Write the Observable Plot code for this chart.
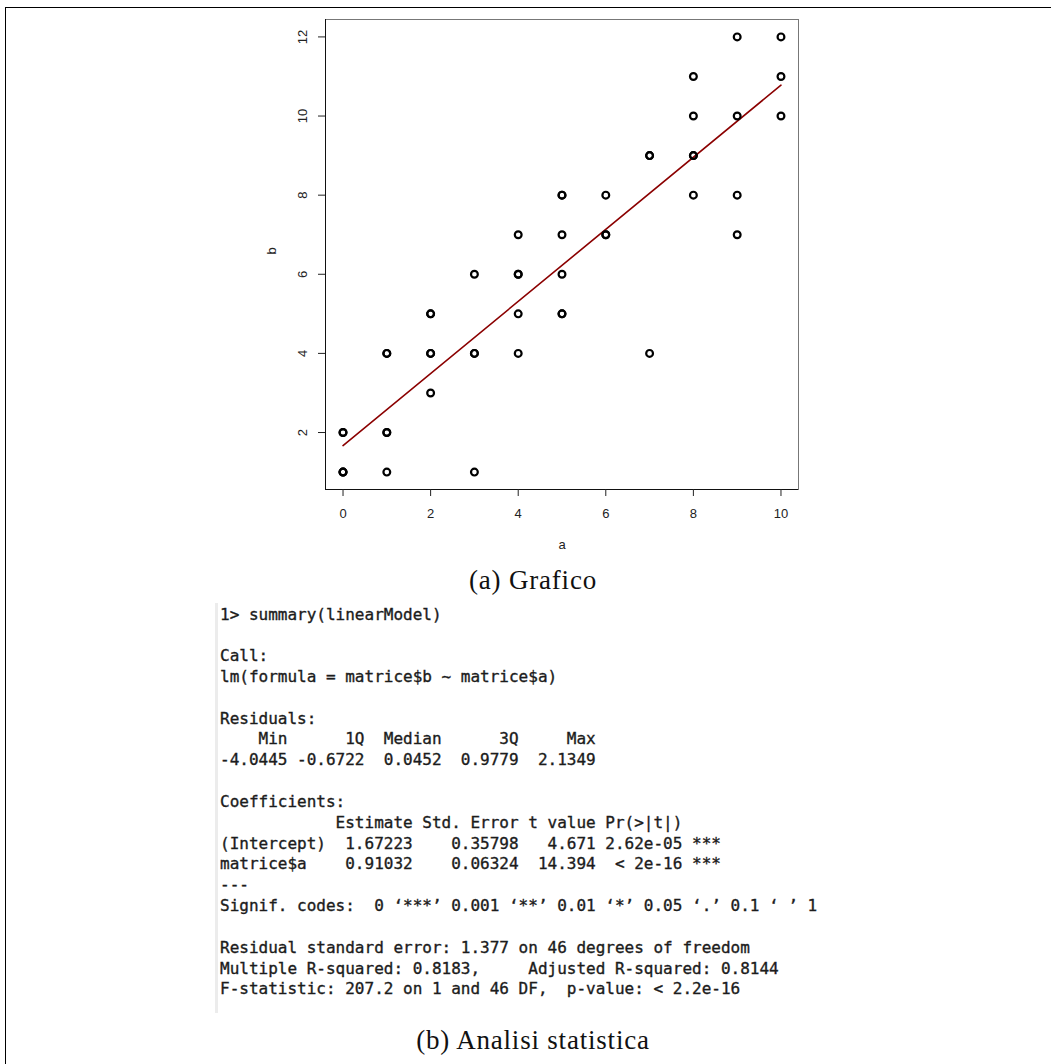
<!DOCTYPE html>
<html>
<head>
<meta charset="utf-8">
<script src="https://cdn.jsdelivr.net/npm/d3@7"></script>
<script src="https://cdn.jsdelivr.net/npm/@observablehq/plot@0.6"></script>
<style>
  html, body { margin: 0; padding: 0; background: #fff; }
  body { width: 1051px; height: 1064px; position: relative; overflow: hidden; }
  #border { position: absolute; left: 5px; top: 7px; right: 0; bottom: 0;
            border-top: 1px solid #000; border-left: 1px solid #000; }
  #chart { position: absolute; left: 0; top: 0; }
  .caption { position: absolute; left: 0; width: 1066px; text-align: center;
             font-family: "Liberation Serif", "Times New Roman", serif; font-size: 27px;
             line-height: 27px; letter-spacing: 0.8px; color: #111; }
  #console { position: absolute; left: 215px; top: 603px; height: 410px; width: 640px;
             border-left: 3px solid #ececec; }
  #console pre { margin: 0; position: absolute; left: 2px; top: 1.5px;
                 font-family: "DejaVu Sans Mono", monospace; font-size: 16px;
                 line-height: 20.83px; color: #1c1c1c;
                 -webkit-text-stroke: 0.35px #1c1c1c; }
</style>
</head>
<body>
<div id="border"></div>
<div id="chart"></div>
<div class="caption" style="top:567px">(a) Grafico</div>
<div id="console"><pre id="out"></pre></div>
<div class="caption" style="top:1027px">(b) Analisi statistica</div>
<script>
// ---- data ----
const a = [0,0,0,0,0, 1,1,1,1,1, 2,2,2,2,2, 3,3,3,3, 4,4,4,4,4, 5,5,5,5,5,5, 6,6,6, 7,7,7, 8,8,8,8,8, 9,9,9,9, 10,10,10];
const b = [1,1,1,2,2, 1,2,2,4,4, 3,4,4,5,5, 1,4,4,6, 4,5,6,6,7, 5,5,6,7,8,8, 7,7,8, 4,9,9, 8,9,9,10,11, 7,8,10,12, 10,11,12];
// fitted regression line end points (lm: b ~ a)
const fitA = [0, 10];
const fitB = [1.67, 10.78];
const xTicks = [0, 2, 4, 6, 8, 10];
const yTicks = [2, 4, 6, 8, 10, 12];
const xDomain = [-0.4, 10.4];
const yDomain = [0.56, 12.44];
const xLabel = "a";
const yLabel = "b";
const consoleLines = [
  "1> summary(linearModel)",
  "",
  "Call:",
  "lm(formula = matrice$b ~ matrice$a)",
  "",
  "Residuals:",
  "    Min      1Q  Median      3Q     Max ",
  "-4.0445 -0.6722  0.0452  0.9779  2.1349 ",
  "",
  "Coefficients:",
  "            Estimate Std. Error t value Pr(>|t|)    ",
  "(Intercept)  1.67223    0.35798   4.671 2.62e-05 ***",
  "matrice$a    0.91032    0.06324  14.394  < 2e-16 ***",
  "---",
  "Signif. codes:  0 \u2018***\u2019 0.001 \u2018**\u2019 0.01 \u2018*\u2019 0.05 \u2018.\u2019 0.1 \u2018 \u2019 1",
  "",
  "Residual standard error: 1.377 on 46 degrees of freedom",
  "Multiple R-squared: 0.8183,     Adjusted R-squared: 0.8144 ",
  "F-statistic: 207.2 on 1 and 46 DF,  p-value: < 2.2e-16"
];

const points = a.map((v, i) => ({a: v, b: b[i]}));
const fit = fitA.map((v, i) => ({a: v, b: fitB[i]}));

const chart = Plot.plot({
  width: 1051,
  height: 560,
  marginLeft: 325,
  marginRight: 253,
  marginTop: 19,
  marginBottom: 71,
  x: {domain: xDomain},
  y: {domain: yDomain},
  style: {fontFamily: "'Liberation Sans', Arial, sans-serif", fontSize: "13px", color: "#222", background: "transparent", overflow: "visible"},
  marks: [
    Plot.frame({stroke: "#777"}),
    Plot.ruleX([xDomain[0]], {stroke: "#111"}),
    Plot.ruleY([yDomain[0]], {stroke: "#111"}),
    Plot.axisX(xTicks, {tickSize: 7, tickPadding: 12, label: null, stroke: "#222"}),
    Plot.axisY(yTicks, {tickSize: 7, tickFormat: () => "", label: null, stroke: "#222"}),
    Plot.text(yTicks, {y: d => d, text: d => String(d), frameAnchor: "left", dx: -23, rotate: -90, textAnchor: "middle", lineAnchor: "middle", fill: "#222"}),
    Plot.text([xLabel], {text: d => d, frameAnchor: "bottom", dy: 55, lineAnchor: "middle", fill: "#222"}),
    Plot.text([yLabel], {text: d => d, frameAnchor: "left", dx: -54, rotate: -90, lineAnchor: "middle", fill: "#222"}),
    Plot.line(fit, {x: "a", y: "b", stroke: "#8b0000", strokeWidth: 1.6}),
    Plot.dot(points, {x: "a", y: "b", r: 3.4, stroke: "#000", strokeWidth: 2.2, fill: "none"})
  ]
});
document.getElementById("chart").appendChild(chart);
document.getElementById("out").textContent = consoleLines.join("\n");
</script>
</body>
</html>
